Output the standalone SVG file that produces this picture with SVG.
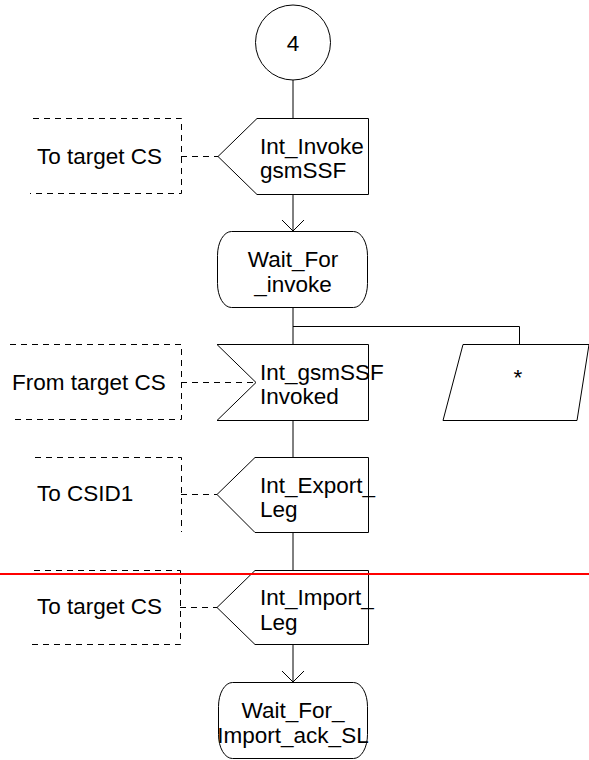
<svg xmlns="http://www.w3.org/2000/svg" width="589" height="760" viewBox="0 0 589 760">
<style>
.s{fill:#fff;stroke:#000;stroke-width:1}
.c{fill:none;stroke:#000;stroke-width:1}
.d{fill:none;stroke:#000;stroke-width:1;stroke-dasharray:6,5}
.t{font-family:"Liberation Sans",Arial,sans-serif;font-size:22.5px;fill:#000}
.m{text-anchor:middle}
</style>
<rect width="589" height="760" fill="#fff"/>
<g id="connectors">
<line class="c" x1="293" y1="80" x2="293" y2="118"/>
<line class="c" x1="293" y1="194" x2="293" y2="231"/>
<polyline class="c" points="282,220 293,231 304,220"/>
<line class="c" x1="293" y1="307" x2="293" y2="344"/>
<polyline class="c" points="293,326.5 519.5,326.5 519.5,344"/>
<line class="c" x1="293" y1="420" x2="293" y2="457"/>
<line class="c" x1="293" y1="532" x2="293" y2="570"/>
<line class="c" x1="293" y1="644" x2="293" y2="682"/>
<polyline class="c" points="282,671 293,682 304,671"/>
<line class="d" x1="181" y1="156.5" x2="218" y2="156.5"/>
<line class="d" x1="181" y1="382.5" x2="256" y2="382.5"/>
<line class="d" x1="181" y1="494.5" x2="217" y2="494.5"/>
<line class="d" x1="180" y1="607.5" x2="217" y2="607.5"/>
</g>
<g id="start4">
<circle class="s" cx="293" cy="42.5" r="37.5"/>
<text class="t m" x="293" y="51">4</text>
</g>
<g id="c_to_target_cs_1">
<polyline class="d" points="33,118.5 181.5,118.5 181.5,193.5 30,193.5"/>
<text class="t" x="37" y="164">To target CS</text>
</g>
<g id="int_invoke">
<polygon class="s" points="257,118.5 368.5,118.5 368.5,194.5 257,194.5 218,156.5"/>
<text class="t" x="260" y="154">Int_Invoke</text>
<text class="t" x="260" y="178">gsmSSF</text>
</g>
<g id="wait_for_invoke">
<rect class="s" x="217.5" y="231.5" width="150" height="76" rx="14" ry="24"/>
<text class="t m" x="293" y="267">Wait_For</text>
<text class="t m" x="293" y="292">_invoke</text>
</g>
<g id="c_from_target_cs">
<polyline class="d" points="10,344.5 181.5,344.5 181.5,419.5 10,419.5"/>
<text class="t" x="12" y="390">From target CS</text>
</g>
<g id="int_gsmssf_invoked">
<polygon class="s" points="217,344.5 368.5,344.5 368.5,420.5 217,420.5 256,382.5"/>
<text class="t" x="260" y="380">Int_gsmSSF</text>
<text class="t" x="260" y="404">Invoked</text>
</g>
<g id="any_input">
<polygon class="s" points="463,344.5 589,344.5 577,420.5 443,420.5"/>
<text class="t m" x="518" y="385">*</text>
</g>
<g id="c_to_csid1">
<polyline class="d" points="35,457.5 181.5,457.5 181.5,532"/>
<text class="t" x="37" y="501">To CSID1</text>
</g>
<g id="int_export_leg">
<polygon class="s" points="255,457.5 368.5,457.5 368.5,532.5 255,532.5 217,494.5"/>
<text class="t" x="260" y="493">Int_Export_</text>
<text class="t" x="260" y="517">Leg</text>
</g>
<g id="c_to_target_cs_2">
<polyline class="d" points="34,570.5 180.5,570.5 180.5,644.5 30,644.5"/>
<text class="t" x="37" y="614">To target CS</text>
</g>
<g id="int_import_leg">
<polygon class="s" points="255,570.5 368.5,570.5 368.5,644.5 255,644.5 217,607.5"/>
<text class="t" x="260" y="605">Int_Import_</text>
<text class="t" x="260" y="630">Leg</text>
</g>
<g id="wait_for_import_ack_sl">
<rect class="s" x="218.5" y="682.5" width="149" height="76" rx="14" ry="24"/>
<text class="t m" x="293" y="718">Wait_For_</text>
<text class="t m" x="293" y="743">Import_ack_SL</text>
</g>
<line x1="0" y1="574" x2="589" y2="574" stroke="#f00" stroke-width="2"/>
</svg>
